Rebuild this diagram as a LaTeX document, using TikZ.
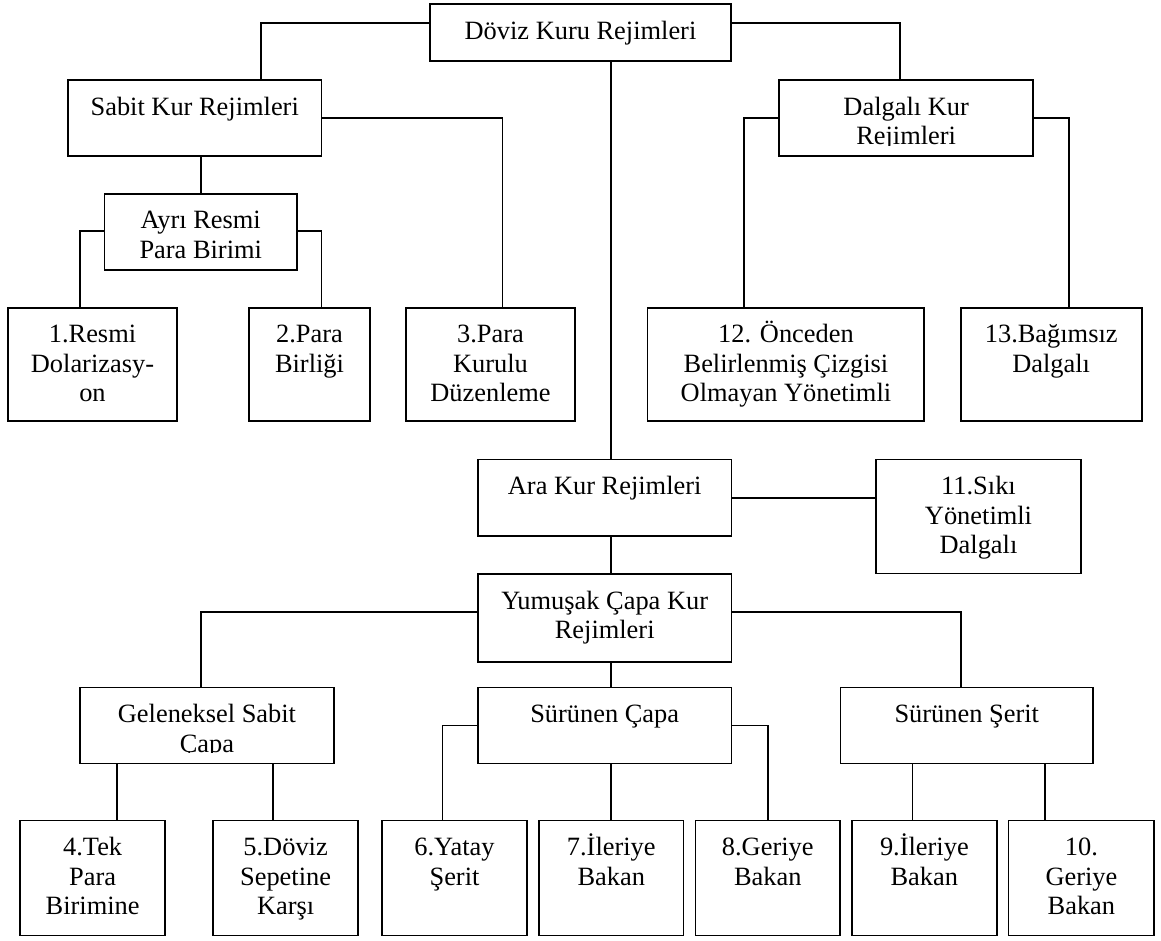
\documentclass[tikz,border=0pt]{standalone}
\usepackage{fontspec}
\setmainfont{Liberation Serif}
\begin{document}
\begin{tikzpicture}[x=1pt,y=-1pt,
  boxn/.style={draw=black, line width=1.7pt, inner sep=0pt, outer sep=0pt, fill=none},
  lbl/.style={inner sep=0pt, outer sep=0pt, anchor=base,
    font=\fontsize{26.4}{29.5}\selectfont},
  link/.style={draw=black, line width=1.7pt}]
\useasboundingbox[fill=white] (0,0) rectangle (1161,940);

% box macro: name, left, top, right, bottom, text (lines split by \\)
\newcommand\diabox[6]{%
  \node[boxn, minimum width={#4-#2}, minimum height={#5-#3}, anchor=north west] (#1) at (#2,#3) {};
  \begin{scope}
    \clip ([yshift=10.5pt]#1.south west) rectangle (#1.north east);
    \node[lbl] (#1-t) at ([yshift=-35pt]#1.north) {\parbox[t]{320pt}{\centering #6}};
  \end{scope}}

% level 0 and 1
\diabox{d}{430}{4}{731}{61}{Döviz Kuru Rejimleri}
\diabox{s}{68}{80}{321.5}{156}{Sabit Kur Rejimleri}
\diabox{dal}{779.3}{80}{1033}{156}{Dalgalı Kur\\Rejimleri}
\diabox{ay}{104.5}{193.7}{297}{269.7}{Ayrı Resmi\\Para Birimi}

% first row of regimes
\diabox{b1}{8}{307.7}{177}{421.3}{1.Resmi\\Dolarizasy-\\on}
\diabox{b2}{249}{307.7}{370}{421.3}{2.Para\\Birliği}
\diabox{b3}{405.7}{307.7}{575.3}{421.3}{3.Para\\Kurulu\\Düzenleme}
\diabox{b12}{647.6}{307.7}{924.3}{421.3}{12. Önceden\\Belirlenmiş Çizgisi\\Olmayan Yönetimli}
\diabox{b13}{960.7}{307.7}{1141.7}{421.3}{13.Bağımsız\\Dalgalı}

% intermediate regimes
\diabox{ara}{478}{459.6}{731.4}{535.7}{Ara Kur Rejimleri}
\diabox{b11}{876}{459.6}{1081}{573.6}{11.Sıkı\\Yönetimli\\Dalgalı}
\diabox{yum}{478}{574}{731.4}{661.8}{Yumuşak Çapa Kur\\Rejimleri}
\diabox{gel}{80}{687.6}{334}{763.4}{Geleneksel Sabit\\Çapa}
\diabox{cap}{478}{687.6}{731.4}{763.4}{Sürünen Çapa}
\diabox{ser}{840.5}{687.6}{1093}{763.4}{Sürünen Şerit}

% bottom row
\diabox{b4}{20}{820.6}{165.3}{935.5}{4.Tek\\Para\\Birimine}
\diabox{b5}{213}{820.6}{358.2}{935.5}{5.Döviz\\Sepetine\\Karşı}
\diabox{b6}{382}{820.6}{527}{935.5}{6.Yatay\\Şerit}
\diabox{b7}{538.9}{820.6}{683.6}{935.5}{7.İleriye\\Bakan}
\diabox{b8}{695.5}{820.6}{840}{935.5}{8.Geriye\\Bakan}
\diabox{b9}{852}{820.6}{996.7}{935.5}{9.İleriye\\Bakan}
\diabox{b10}{1008.5}{820.6}{1154.3}{935.5}{10.\\Geriye\\Bakan}

% connectors
\draw[link] ([yshift=-19pt]d.north west) -| ([xshift=193pt]s.north west);
\draw[link] ([yshift=-19pt]d.north east) -| ([xshift=120.7pt]dal.north west);
\draw[link] ([xshift=181pt]d.south west) -- ([xshift=133pt]ara.north west);

\draw[link] ([yshift=-37.7pt]s.north east) -| ([xshift=96.8pt]b3.north west);
\draw[link] (ay.north) -- (ay.north |- s.south);
\draw[link] ([yshift=-37.3pt]ay.north west) -| ([xshift=72pt]b1.north west);
\draw[link] ([yshift=-37.3pt]ay.north east) -| ([xshift=72.5pt]b2.north west);

\draw[link] ([yshift=-37.7pt]dal.north west) -| ([xshift=96.4pt]b12.north west);
\draw[link] ([yshift=-37.7pt]dal.north east) -| ([xshift=108.3pt]b13.north west);

\draw[link] ([yshift=-38.2pt]ara.north east) -- ([yshift=-38.2pt]b11.north west);
\draw[link] ([xshift=133pt]ara.south west) -- ([xshift=133pt]yum.north west);

\draw[link] ([yshift=-37.9pt]yum.north west) -| ([xshift=121pt]gel.north west);
\draw[link] ([yshift=-37.9pt]yum.north east) -| ([xshift=120.2pt]ser.north west);
\draw[link] ([xshift=133pt]yum.south west) -- ([xshift=133pt]cap.north west);

\draw[link] ([yshift=-37.9pt]cap.north west) -| ([xshift=60.4pt]b6.north west);
\draw[link] ([yshift=-37.9pt]cap.north east) -| ([xshift=72.3pt]b8.north west);
\draw[link] ([xshift=133pt]cap.south west) -- ([xshift=72.1pt]b7.north west);

\coordinate (p4) at ([xshift=96.7pt]b4.north west);
\coordinate (p5) at ([xshift=60pt]b5.north west);
\coordinate (p9) at ([xshift=60.5pt]b9.north west);
\coordinate (p10) at ([xshift=36.5pt]b10.north west);
\draw[link] (p4) -- (p4 |- gel.south);
\draw[link] (p5) -- (p5 |- gel.south);
\draw[link] (p9) -- (p9 |- ser.south);
\draw[link] (p10) -- (p10 |- ser.south);
\end{tikzpicture}
\end{document}
